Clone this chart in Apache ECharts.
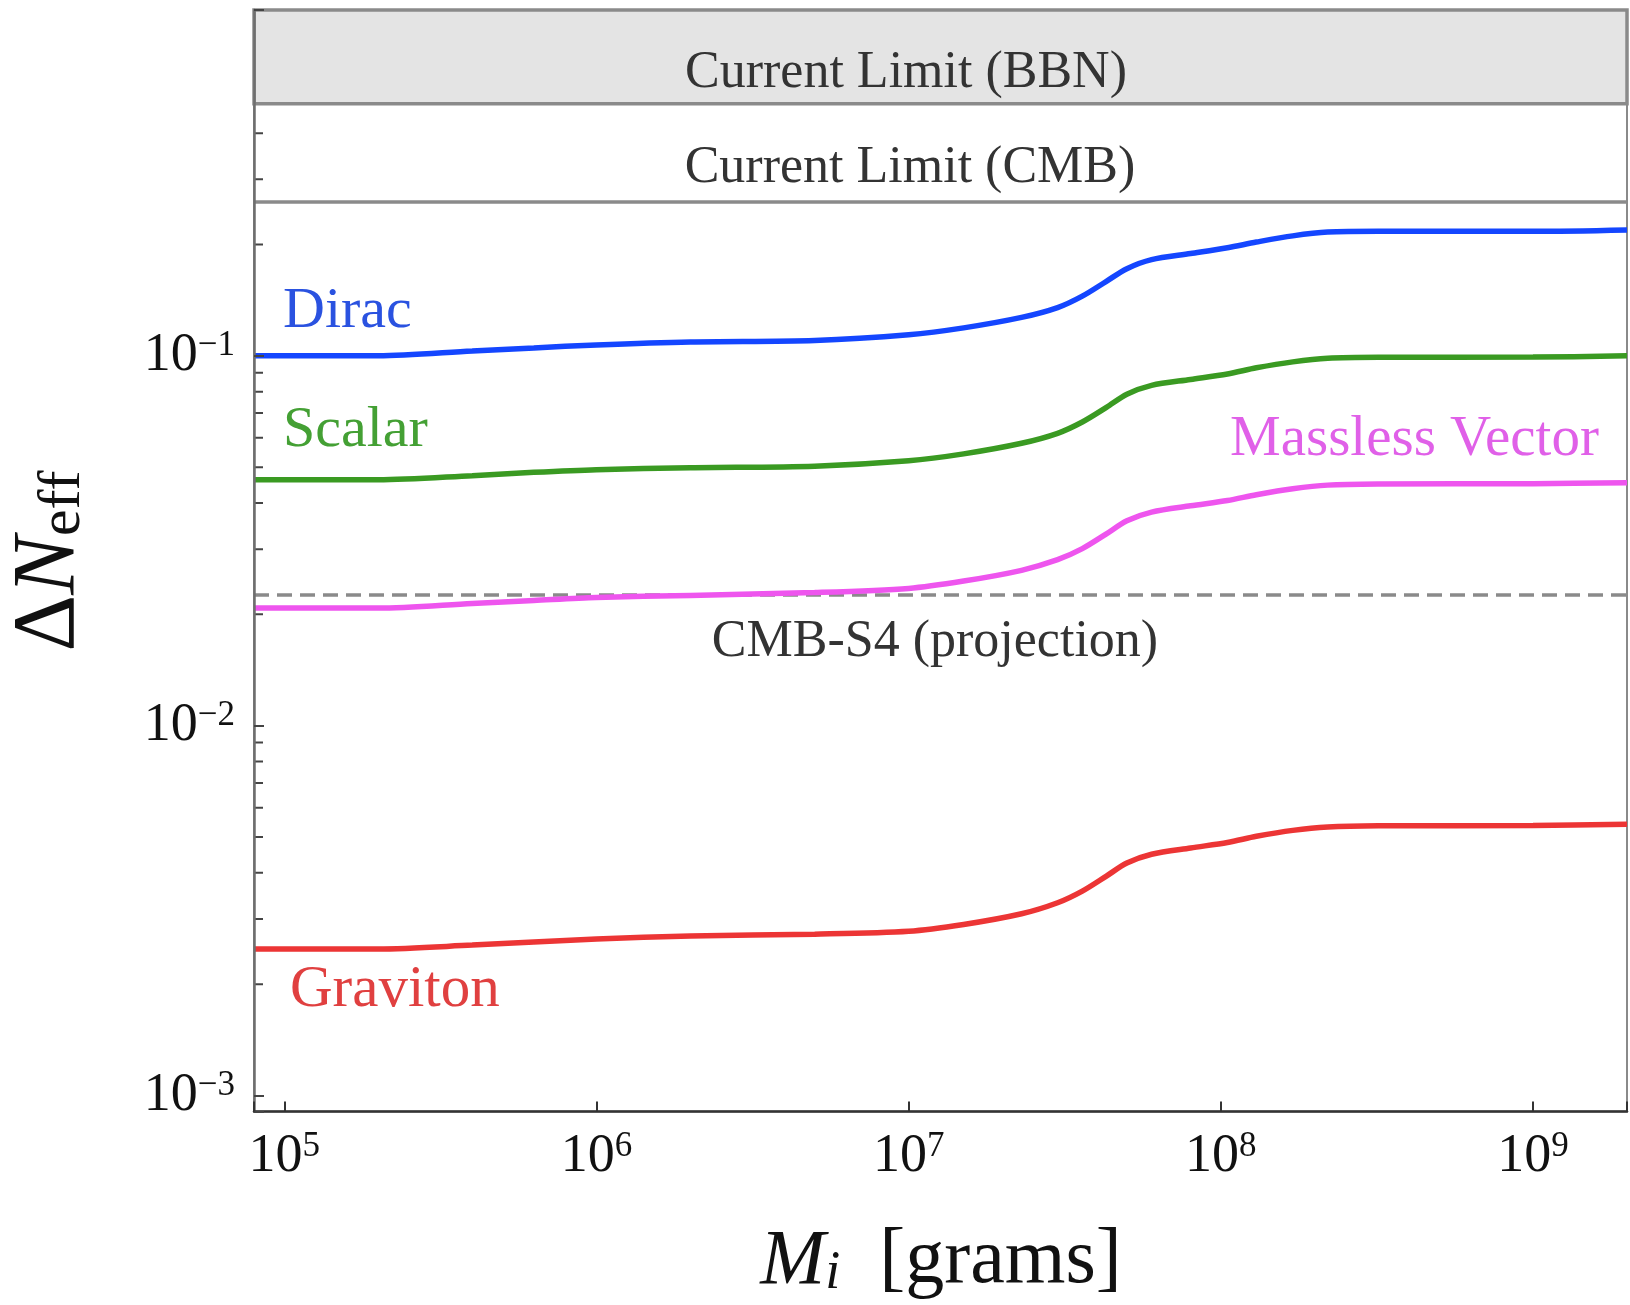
<!DOCTYPE html>
<html><head><meta charset="utf-8">
<script src="https://cdn.jsdelivr.net/npm/echarts@6/dist/echarts.min.js"></script>
<style>html,body{margin:0;padding:0;background:#fff}#c{width:1630px;height:1305px}</style>
</head><body><div id="c"></div>
<script>
// ---- data ----
const massGrams = [8e4, 2e5, 4e5, 6.3e5, 1e6, 2e6, 5e6, 1e7, 1.5e7, 2.3e7, 3e7, 3.6e7, 4.3e7, 5e7, 6e7, 8e7, 1.05e8, 1.3e8, 1.7e8, 2.2e8, 3.2e8, 1e9, 2e9];
const dirac    = [0.100, 0.100, 0.103, 0.105, 0.107, 0.109, 0.110, 0.114, 0.119, 0.127, 0.135, 0.145, 0.159, 0.172, 0.182, 0.189, 0.196, 0.203, 0.211, 0.216, 0.217, 0.217, 0.219];
const scalar   = [0.0462, 0.0462, 0.0474, 0.0484, 0.0492, 0.0498, 0.0503, 0.0520, 0.0543, 0.0580, 0.0617, 0.0662, 0.0725, 0.0787, 0.0832, 0.0863, 0.0893, 0.0928, 0.0963, 0.0985, 0.0991, 0.0992, 0.1000];
const vector   = [0.0208, 0.0208, 0.0214, 0.0218, 0.0222, 0.0225, 0.0229, 0.0235, 0.0246, 0.0263, 0.0281, 0.0301, 0.0330, 0.0358, 0.0378, 0.0393, 0.0406, 0.0421, 0.0437, 0.0447, 0.0450, 0.0451, 0.0454];
const graviton = [0.00249, 0.00249, 0.00255, 0.00260, 0.00265, 0.00270, 0.00273, 0.00278, 0.00290, 0.00310, 0.00332, 0.00357, 0.00392, 0.00425, 0.00449, 0.00467, 0.00483, 0.00502, 0.00521, 0.00532, 0.00536, 0.00537, 0.00541];
const seriesNames = ['Dirac', 'Scalar', 'Massless Vector', 'Graviton'];
const bbnLimit = 0.48;
const cmbLimit = 0.261;
const cmbS4 = 0.0226;
const limitLabels = ['Current Limit (BBN)', 'Current Limit (CMB)', 'CMB-S4 (projection)'];
const xMin = 8e4, xMax = 2e9;
const yMin = 9.05e-4, yMax = 0.861;
const yMinorTicks = [2e-3,3e-3,4e-3,5e-3,6e-3,7e-3,8e-3,9e-3,2e-2,3e-2,4e-2,5e-2,6e-2,7e-2,8e-2,9e-2,0.2,0.3,0.4];

// ---- styling ----
const FONT = 'Liberation Serif';
const colors = ['#1446ff', '#3a9a22', '#ee55ee', '#ec3535'];
const labelColors = ['#2a52e0', '#44a034', '#e060e8', '#e04040'];

function powLabel(v) {
  const l = Math.log10(v);
  const e = Math.round(l);
  if (Math.abs(l - e) > 1e-6) return '';
  const s = e < 0 ? '\u2212' + (-e) : String(e);
  return '{b|10}{s|' + s + '}';
}
const tickRich = {
  b: { fontFamily: FONT, fontSize: 54, lineHeight: 54, color: '#111' },
  s: { fontFamily: FONT, fontSize: 35, lineHeight: 14, verticalAlign: 'top', color: '#111' }
};

const chart = echarts.init(document.getElementById('c'), null, { renderer: 'canvas' });
const dataOf = arr => massGrams.map((m, i) => [m, arr[i]]);
const curves = [dirac, scalar, vector, graviton];

const option = {
  animation: false,
  backgroundColor: '#ffffff',
  grid: { left: 254, right: 1, top: 10, bottom: 193.5, show: true, borderColor: '#8a8a8a', borderWidth: 2, backgroundColor: 'transparent' },
  xAxis: {
    type: 'log', logBase: 10, min: xMin, max: xMax, z: 10,
    axisLine: { lineStyle: { color: '#333', width: 2.5 } },
    axisTick: { inside: true, length: 10, lineStyle: { color: '#333', width: 2 } },
    axisLabel: { margin: 18, formatter: powLabel, rich: tickRich },
    splitLine: { show: false }
  },
  yAxis: {
    type: 'log', logBase: 10, min: yMin, max: yMax, z: 10,
    axisLine: { lineStyle: { color: '#6e6e6e', width: 2.5 } },
    axisTick: { inside: true, length: 10, lineStyle: { color: '#444', width: 2 } },
    axisLabel: { margin: 19, formatter: powLabel, rich: tickRich },
    splitLine: { show: false }
  },
  series: [
    {
      type: 'custom', coordinateSystem: 'cartesian2d', z: 3, silent: true, clip: true,
      data: yMinorTicks.map(v => [xMin, v]),
      renderItem: function (params, api) {
        const p = api.coord([api.value(0), api.value(1)]);
        return { type: 'line', shape: { x1: p[0], y1: p[1], x2: p[0] + 9, y2: p[1] }, style: { stroke: '#444', lineWidth: 2 } };
      }
    },
    {
      type: 'line', name: 'limits', data: [], z: 4, silent: true,
      markArea: {
        silent: true,
        itemStyle: { color: '#e4e4e4', borderColor: '#8a8a8a', borderWidth: 3.5 },
        label: { show: false },
        data: [[{ yAxis: bbnLimit }, { yAxis: yMax }]]
      },
      markLine: {
        silent: true, precision: 6, symbol: ['none', 'none'], label: { show: false },
        data: [
          { yAxis: cmbLimit, lineStyle: { color: '#8a8a8a', width: 3.5, type: 'solid' } },
          { yAxis: cmbS4, lineStyle: { color: '#8a8a8a', width: 3.5, type: [15, 8] } }
        ]
      }
    }
  ].concat(curves.map((arr, i) => ({
    type: 'line', name: seriesNames[i], data: dataOf(arr), z: 6,
    showSymbol: false, smooth: 0.3,
    lineStyle: { color: colors[i], width: 5.5 }, itemStyle: { color: colors[i] }
  }))),
  graphic: [
    { type: 'text', x: 906, y: 73, z: 20, style: { text: limitLabels[0], fontFamily: FONT, fontSize: 52, fill: '#333', align: 'center', verticalAlign: 'middle' } },
    { type: 'text', x: 910, y: 168, z: 20, style: { text: limitLabels[1], fontFamily: FONT, fontSize: 52, fill: '#333', align: 'center', verticalAlign: 'middle' } },
    { type: 'text', x: 935, y: 642, z: 20, style: { text: limitLabels[2], fontFamily: FONT, fontSize: 52, fill: '#333', align: 'center', verticalAlign: 'middle' } },
    { type: 'text', x: 283, y: 312, z: 20, style: { text: seriesNames[0], fontFamily: FONT, fontSize: 58, fill: labelColors[0], align: 'left', verticalAlign: 'middle' } },
    { type: 'text', x: 283, y: 431, z: 20, style: { text: seriesNames[1], fontFamily: FONT, fontSize: 58, fill: labelColors[1], align: 'left', verticalAlign: 'middle' } },
    { type: 'text', x: 1230, y: 440, z: 20, style: { text: seriesNames[2], fontFamily: FONT, fontSize: 57, fill: labelColors[2], align: 'left', verticalAlign: 'middle' } },
    { type: 'text', x: 290, y: 990, z: 20, style: { text: seriesNames[3], fontFamily: FONT, fontSize: 59, fill: labelColors[3], align: 'left', verticalAlign: 'middle' } },
    {
      type: 'text', x: 50, y: 561, rotation: Math.PI / 2, z: 20,
      style: {
        text: '{d|\u0394}{n|N}{s|eff}', align: 'center', verticalAlign: 'middle', fill: '#111',
        rich: {
          d: { fontFamily: FONT, fontSize: 88, lineHeight: 86, fill: '#111', color: '#111' },
          n: { fontFamily: FONT, fontSize: 88, fontStyle: 'italic', lineHeight: 86, fill: '#111', color: '#111' },
          s: { fontFamily: FONT, fontSize: 60, lineHeight: 32, verticalAlign: 'bottom', fill: '#111', color: '#111' }
        }
      }
    },
    {
      type: 'text', x: 941, y: 1262, z: 20,
      style: {
        text: '{m|M}{i|i}{r|  [grams]}', align: 'center', verticalAlign: 'middle', fill: '#111',
        rich: {
          m: { fontFamily: FONT, fontSize: 78, fontStyle: 'italic', lineHeight: 78, fill: '#111', color: '#111' },
          i: { fontFamily: FONT, fontSize: 54, fontStyle: 'italic', lineHeight: 34, verticalAlign: 'bottom', fill: '#111', color: '#111' },
          r: { fontFamily: FONT, fontSize: 78, lineHeight: 78, fill: '#111', color: '#111' }
        }
      }
    }
  ]
};
chart.setOption(option);
</script></body></html>
